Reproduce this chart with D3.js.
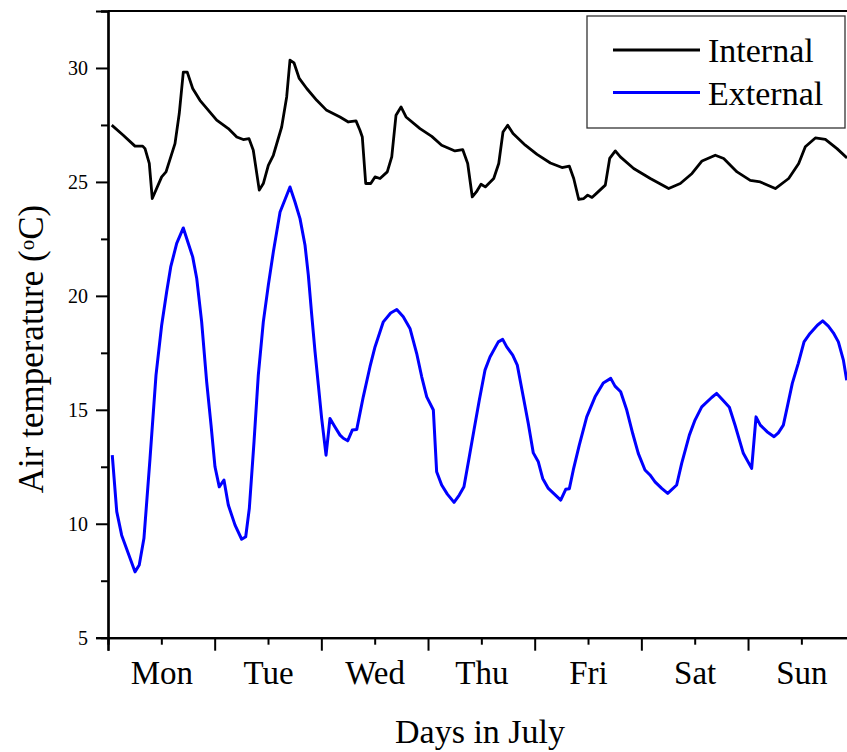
<!DOCTYPE html>
<html>
<head>
<meta charset="utf-8">
<script src="https://cdn.jsdelivr.net/npm/d3@7"></script>
<style>
  body { margin: 0; background: #fff; }
  svg { display: block; }
  text { font-family: "Liberation Serif", "Times New Roman", serif; fill: #000; }
</style>
</head>
<body>
<div id="chart"></div>
<script>
// days since Monday 00:00
var intDays = [0.035, 0.143, 0.253, 0.325, 0.347, 0.387, 0.415, 0.503, 0.544, 0.628, 0.668, 0.706, 0.743, 0.794, 0.862,
  1.019, 1.128, 1.207, 1.268, 1.322, 1.362, 1.418, 1.456, 1.503, 1.550, 1.628, 1.675, 1.706, 1.744, 1.793, 1.863, 1.957,
  2.050, 2.175, 2.253, 2.325, 2.362, 2.384, 2.416, 2.463, 2.503, 2.550, 2.618, 2.660, 2.700, 2.747, 2.794, 2.925,
  3.035, 3.128, 3.253, 3.325, 3.372, 3.415, 3.453, 3.497, 3.537, 3.616, 3.663, 3.703, 3.747, 3.797, 3.912,
  4.022, 4.147, 4.256, 4.325, 4.366, 4.413, 4.460, 4.497, 4.537, 4.584, 4.662, 4.703, 4.756, 4.803, 4.928,
  5.084, 5.256, 5.365, 5.475, 5.569, 5.693, 5.772, 5.897,
  6.021, 6.115, 6.256, 6.381, 6.475, 6.537, 6.631, 6.725, 6.834, 6.928];
var intTemp = [27.49, 27.05, 26.57, 26.57, 26.46, 25.81, 24.27, 25.22, 25.44, 26.68, 28.00, 29.82, 29.82, 29.10, 28.58,
  27.71, 27.34, 26.97, 26.86, 26.90, 26.39, 24.64, 24.93, 25.73, 26.17, 27.41, 28.73, 30.34, 30.22, 29.54, 29.10, 28.58,
  28.14, 27.85, 27.63, 27.68, 27.27, 26.97, 24.93, 24.93, 25.22, 25.15, 25.44, 26.10, 27.93, 28.29, 27.85, 27.34,
  27.00, 26.61, 26.36, 26.42, 25.81, 24.34, 24.56, 24.90, 24.78, 25.15, 25.81, 27.19, 27.49, 27.12, 26.61,
  26.21, 25.83, 25.63, 25.69, 25.15, 24.23, 24.27, 24.42, 24.32, 24.52, 24.86, 26.03, 26.36, 26.10, 25.59,
  25.15, 24.71, 24.93, 25.37, 25.92, 26.17, 26.03, 25.44,
  25.07, 25.00, 24.71, 25.15, 25.81, 26.54, 26.93, 26.87, 26.46, 26.05];

var extDays = [0.040, 0.082, 0.128, 0.253, 0.293, 0.337, 0.394, 0.450, 0.503, 0.550, 0.588, 0.644, 0.706, 0.753, 0.794,
  0.832, 0.878, 0.925, 0.966, 1.003, 1.043, 1.087, 1.128, 1.191, 1.253, 1.291, 1.325, 1.369, 1.409, 1.456, 1.503,
  1.550, 1.613, 1.706, 1.753, 1.800, 1.847, 1.878, 1.910, 1.941, 1.972, 2.003, 2.044, 2.081, 2.128, 2.175, 2.206,
  2.247, 2.290, 2.332, 2.393, 2.456, 2.503, 2.581, 2.650, 2.707, 2.768, 2.831, 2.894, 2.941, 2.988, 3.050, 3.081,
  3.128, 3.181, 3.244, 3.293, 3.337, 3.387, 3.431, 3.481, 3.534, 3.581, 3.659, 3.700, 3.738, 3.794, 3.837, 3.893,
  3.940, 3.987, 4.034, 4.075, 4.128, 4.244, 4.291, 4.325, 4.362, 4.418, 4.488, 4.566, 4.643, 4.713, 4.753, 4.806,
  4.863, 4.919, 4.971, 5.034, 5.081, 5.128, 5.191, 5.247, 5.331, 5.378, 5.450, 5.503, 5.566, 5.659, 5.706, 5.763,
  5.825, 5.878, 5.956, 6.034, 6.075, 6.115, 6.178, 6.244, 6.284, 6.331, 6.368, 6.415, 6.471, 6.525, 6.581, 6.650,
  6.700, 6.753, 6.800, 6.847, 6.894, 6.925];
var extTemp = [13.01, 10.53, 9.50, 7.89, 8.19, 9.36, 12.87, 16.52, 18.71, 20.18, 21.27, 22.30, 22.98, 22.30, 21.71,
  20.76, 18.86, 16.23, 14.33, 12.50, 11.62, 11.92, 10.82, 9.94, 9.32, 9.43, 10.68, 13.60, 16.52, 18.86, 20.47,
  21.93, 23.68, 24.78, 24.12, 23.39, 22.22, 20.91, 19.15, 17.54, 16.08, 14.62, 13.01, 14.62, 14.25, 13.89, 13.75,
  13.64, 14.11, 14.14, 15.57, 16.89, 17.76, 18.86, 19.25, 19.40, 19.08, 18.57, 17.47, 16.45, 15.57, 14.99, 12.28,
  11.70, 11.30, 10.94, 11.26, 11.62, 12.94, 14.11, 15.43, 16.74, 17.32, 17.98, 18.09, 17.76, 17.40, 16.96, 15.57,
  14.40, 13.11, 12.72, 11.99, 11.55, 11.04, 11.51, 11.54, 12.36, 13.45, 14.69, 15.57, 16.18, 16.38, 16.04, 15.79,
  14.99, 13.96, 13.09, 12.36, 12.14, 11.84, 11.55, 11.33, 11.70, 12.65, 13.89, 14.55, 15.13, 15.54, 15.72, 15.43,
  15.11, 14.33, 13.09, 12.43, 14.69, 14.33, 14.04, 13.82, 13.99, 14.33, 15.13, 16.16, 17.04, 17.98, 18.35, 18.71,
  18.90, 18.67, 18.38, 17.98, 17.18, 16.30];

var dayLabels = ["Mon", "Tue", "Wed", "Thu", "Fri", "Sat", "Sun"];
var yTicks = [5, 10, 15, 20, 25, 30];
var yMinorTicks = [7.5, 12.5, 17.5, 22.5, 27.5, 32.5];
var seriesNames = ["Internal", "External"];
var seriesColors = ["#000000", "#0000ff"];

var width = 847, height = 752;
var plotLeft = 108, plotRight = 854.7, plotTop = 11, plotBottom = 637.7;
var serif = '"Liberation Serif", "Times New Roman", serif';

var svg = d3.select("#chart").append("svg")
    .attr("width", width)
    .attr("height", height);

var x = d3.scaleLinear().domain([0, 7]).range([plotLeft, plotRight]);
var y = d3.scaleLinear().domain([5, 32.5]).range([plotBottom, plotTop]);

svg.append("clipPath").attr("id", "plot")
  .append("rect")
    .attr("x", plotLeft).attr("y", plotTop)
    .attr("width", plotRight - plotLeft).attr("height", plotBottom - plotTop);

// y axis: labelled majors, short minors
var yAxis = svg.append("g").attr("transform", "translate(" + plotLeft + ",0)");
yAxis.call(d3.axisLeft(y).tickValues(yTicks).tickSize(12).tickPadding(8).tickFormat(d3.format("d")));
yAxis.append("g").call(d3.axisLeft(y).tickValues(yMinorTicks).tickSize(7).tickFormat(""));

// x axis: long ticks at day boundaries, short labelled ticks at midday
var days = d3.range(0, 8);
var xAxis = svg.append("g").attr("transform", "translate(0," + plotBottom + ")");
xAxis.call(d3.axisBottom(x).tickValues(days).tickSize(13).tickFormat(""));
xAxis.append("g").call(d3.axisBottom(x).tickValues(days.slice(0, 7).map(function(d) { return d + 0.5; }))
    .tickSize(7).tickPadding(16)
    .tickFormat(function(d, i) { return dayLabels[i]; }));

svg.selectAll(".domain").attr("stroke-width", 2.2);
svg.selectAll(".tick line").attr("stroke-width", 2);
yAxis.selectAll(".tick text").style("font-size", "20px")
    .style("font-family", serif).attr("fill", "#000");
xAxis.selectAll(".tick text").style("font-size", "33px")
    .style("font-family", serif).attr("fill", "#000");

// top and right frame lines
svg.append("line")
    .attr("x1", plotLeft).attr("x2", plotRight)
    .attr("y1", plotTop).attr("y2", plotTop)
    .attr("stroke", "#000").attr("stroke-width", 2.2);
svg.append("line")
    .attr("x1", plotRight).attr("x2", plotRight)
    .attr("y1", plotTop).attr("y2", plotBottom)
    .attr("stroke", "#000").attr("stroke-width", 2.2);

var line = d3.line()
    .x(function(d) { return x(d[0]); })
    .y(function(d) { return y(d[1]); });

var series = [d3.zip(intDays, intTemp), d3.zip(extDays, extTemp)];

svg.append("g").attr("clip-path", "url(#plot)")
  .selectAll("path").data(series).enter().append("path")
    .attr("d", line)
    .attr("fill", "none")
    .attr("stroke", function(d, i) { return seriesColors[i]; })
    .attr("stroke-width", function(d, i) { return i == 0 ? 2.8 : 3; })
    .attr("stroke-linejoin", "round");

// axis titles
svg.append("text")
    .attr("x", 480).attr("y", 743)
    .attr("text-anchor", "middle")
    .style("font-size", "34px")
    .text("Days in July");

var yt = svg.append("text")
    .attr("transform", "translate(43,349) rotate(-90)")
    .attr("text-anchor", "middle")
    .style("font-size", "35px");
yt.append("tspan").text("Air temperature (");
yt.append("tspan").attr("dy", "-0.45em").style("font-size", "21px").text("o");
yt.append("tspan").attr("dy", "0.27em").text("C)");

// legend
var legend = svg.append("g");
legend.append("rect")
    .attr("x", 587).attr("y", 16)
    .attr("width", 258).attr("height", 112)
    .attr("fill", "#fff").attr("stroke", "#333").attr("stroke-width", 1.3);

var items = legend.selectAll("g.item").data(seriesNames).enter().append("g")
    .attr("class", "item")
    .attr("transform", function(d, i) { return "translate(0," + (50 + i * 42.5) + ")"; });
items.append("line")
    .attr("x1", 613).attr("x2", 700)
    .attr("stroke", function(d, i) { return seriesColors[i]; })
    .attr("stroke-width", 3);
items.append("text")
    .attr("x", 708).attr("y", 12)
    .style("font-size", "34px")
    .text(function(d) { return d; });
</script>
</body>
</html>
